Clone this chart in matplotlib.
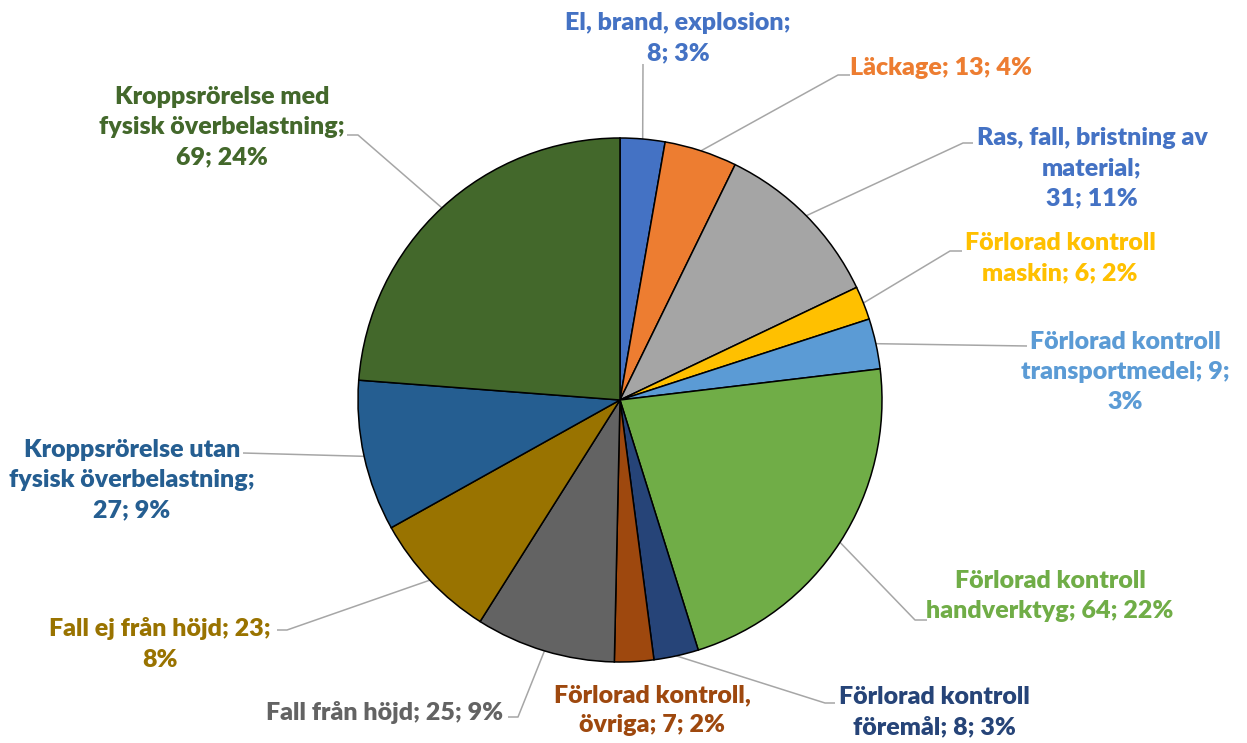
import matplotlib.pyplot as plt
import numpy as np

# data
labels = ['El, brand, explosion', 'Läckage', 'Ras, fall, bristning av material',
          'Förlorad kontroll maskin', 'Förlorad kontroll transportmedel',
          'Förlorad kontroll handverktyg', 'Förlorad kontroll föremål',
          'Förlorad kontroll, övriga', 'Fall från höjd', 'Fall ej från höjd',
          'Kroppsrörelse utan fysisk överbelastning',
          'Kroppsrörelse med fysisk överbelastning']
values = [8, 13, 31, 6, 9, 64, 8, 7, 25, 23, 27, 69]
colors = ['#4472C4', '#ED7D31', '#A5A5A5', '#FFC000', '#5B9BD5', '#70AD47',
          '#264478', '#9E480E', '#636363', '#997300', '#255E91', '#43682B']
text_colors = ['#4472C4', '#ED7D31', '#4472C4', '#FFC000', '#5B9BD5', '#70AD47',
               '#264478', '#9E480E', '#636363', '#997300', '#255E91', '#43682B']
# how each label text is wrapped (as in the original)
label_text = ['El, brand, explosion;\n{v}; {p}', 'Läckage; {v}; {p}',
              'Ras, fall, bristning av\nmaterial;\n{v}; {p}',
              'Förlorad kontroll\nmaskin; {v}; {p}',
              'Förlorad kontroll\ntransportmedel; {v};\n{p}',
              'Förlorad kontroll\nhandverktyg; {v}; {p}',
              'Förlorad kontroll\nföremål; {v}; {p}',
              'Förlorad kontroll,\növriga; {v}; {p}',
              'Fall från höjd; {v}; {p}', 'Fall ej från höjd; {v};\n{p}',
              'Kroppsrörelse utan\nfysisk överbelastning;\n{v}; {p}',
              'Kroppsrörelse med\nfysisk överbelastning;\n{v}; {p}']

W, H = 1247, 743
fig = plt.figure(figsize=(W / 100, H / 100), dpi=100)
ax = fig.add_axes((0, 0, 1, 1))

cx, cy, r = 620, H - 400, 262
wedges, _ = ax.pie(values, colors=colors, startangle=90, counterclock=False,
                   center=(cx, cy), radius=r,
                   wedgeprops=dict(edgecolor='black', linewidth=1.1))
ax.set_xlim(0, W)
ax.set_ylim(0, H)
ax.set_aspect('equal')
ax.axis('off')

# label layout in pixels from top-left: text centre, leader elbow, horizontal tail
text_pos = [(678, 38), (941, 68), (1092, 168), (1060, 258), (1125, 372),
            (1050, 596), (934, 712), (652, 710), (385, 712), (160, 644),
            (132, 480), (222, 127)]
elbows = [((643, 64), 0), ((838, 75), 12), ((963, 143), 10), ((950, 251), 12),
          ((1027, 346), 0), ((915, 620), 12), ((825, 703), 10), (None, 0),
          ((518, 717), -10), ((287, 630), -10), ((243, 453), 0), ((358, 135), -11)]

total = sum(values)
for w, v, c, fmt, (tx, ty), (elb, tail) in zip(wedges, values, text_colors, label_text,
                                             text_pos, elbows):
    pct = f'{round(100 * v / total)}%'
    ax.text(tx, H - ty, fmt.format(v=v, p=pct), color=c, ha='center', va='center',
            fontsize=18, fontweight='heavy', family='Lato', linespacing=1.45)
    if elb is None:
        continue
    ang = np.deg2rad((w.theta1 + w.theta2) / 2)
    px, py = cx + r * np.cos(ang), cy + r * np.sin(ang)
    ex, ey = elb[0], H - elb[1]
    ax.plot([px, ex, ex + tail], [py, ey, ey], color='#A6A6A6', lw=1.1,
            solid_capstyle='butt', zorder=0.5)

fig.savefig('out.png', dpi=100, facecolor='white')
